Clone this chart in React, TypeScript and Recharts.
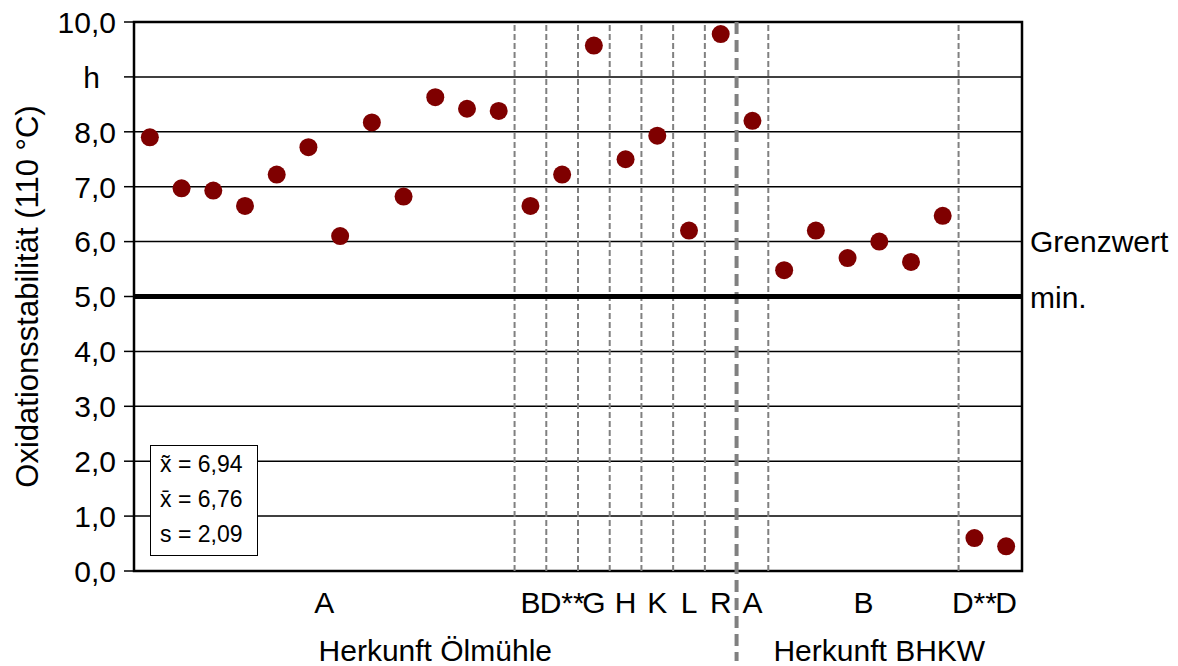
import {
  CartesianGrid,
  ComposedChart,
  Label,
  ReferenceArea,
  ReferenceLine,
  Scatter,
  XAxis,
  YAxis,
} from "recharts";

// oxidation stability per sample, hours at 110 °C
const values = [
  7.9, 6.97, 6.93, 6.65, 7.22, 7.72, 6.1, 8.17, 6.82, 8.63, 8.42, 8.38, 6.65,
  7.22, 9.57, 7.5, 7.93, 6.2, 9.78, 8.2, 5.48, 6.2, 5.7, 6.0, 5.63, 6.47, 0.6,
  0.45,
];

const groupLabels = ["A", "B", "D**", "G", "H", "K", "L", "R", "A", "B", "D**", "D"];
const groupSizes = [12, 1, 1, 1, 1, 1, 1, 1, 1, 6, 1, 1];

const originLabels = ["Herkunft Ölmühle", "Herkunft BHKW"];
const originSizes = [19, 9];

const dividers = [12, 13, 14, 15, 16, 17, 18, 20, 26];

const yTicks = [0, 1, 2, 3, 4, 5, 6, 7, 8, 9, 10];
const limit = 5;

const stats = ["x\u0303 = 6,94", "x\u0304 = 6,76", "s = 2,09"];

const FONT = "'Liberation Sans', Arial, sans-serif";
const FS = 30;
const total = values.length;

const data = values.map((v, i) => ({ pos: i + 0.5, value: v }));

const centers = (sizes: number[]) => {
  let start = 0;
  return sizes.map((s) => {
    const c = start + s / 2;
    start += s;
    return c;
  });
};

const groupTicks = centers(groupSizes);
const originTicks = centers(originSizes);
const originBreak = originSizes[0];

const GroupTick = (props: any) => {
  const { x, y, index } = props;
  return (
    <text x={x} y={y + 42} textAnchor="middle" fontSize={FS} fontFamily={FONT} fill="#000">
      {groupLabels[index]}
    </text>
  );
};

const OriginTick = (props: any) => {
  const { x, y, index } = props;
  return (
    <text x={x} y={y + 35} textAnchor="middle" fontSize={FS} fontFamily={FONT} fill="#000">
      {originLabels[index]}
    </text>
  );
};

const YTick = (props: any) => {
  const { x, y, payload } = props;
  if (payload.value === 9) {
    return (
      <text x={x - 16} y={y} dy="0.36em" textAnchor="end" fontSize={FS} fontFamily={FONT} fill="#000">
        h
      </text>
    );
  }
  return (
    <text x={x} y={y} dy="0.36em" textAnchor="end" fontSize={FS} fontFamily={FONT} fill="#000">
      {payload.value.toFixed(1).replace(".", ",")}
    </text>
  );
};

const YLabel = (props: any) => {
  const vb = props.viewBox;
  const cy = vb.y + vb.height / 2;
  return (
    <text
      x={27}
      y={cy}
      transform={`rotate(-90, 27, ${cy})`}
      textAnchor="middle"
      dy="0.35em"
      fontSize={31}
      fontFamily={FONT}
      fill="#000"
    >
      Oxidationsstabilität (110 °C)
    </text>
  );
};

const LimitLabel = (props: any) => {
  const vb = props.viewBox;
  const x = vb.x + vb.width + 8;
  return (
    <g fontSize={FS} fontFamily={FONT} fill="#000">
      <text x={x} y={vb.y - 55} dy="0.36em">
        Grenzwert
      </text>
      <text x={x} y={vb.y + 1} dy="0.36em">
        min.
      </text>
    </g>
  );
};

const Dot = (props: any) => <circle cx={props.cx} cy={props.cy} r={9} fill="#7f0000" />;

const BreakLine = (props: any) => {
  const top = Math.min(props.y1, props.y2);
  const bottom = Math.max(props.y1, props.y2);
  return (
    <line
      x1={props.x1}
      x2={props.x2}
      y1={top}
      y2={bottom + 90}
      stroke="#808080"
      strokeWidth={4}
      strokeDasharray="12 6"
    />
  );
};

export default function App() {
  return (
    <div style={{ position: "absolute", left: 0, top: 0, width: 1178, height: 666, background: "#fff", overflow: "hidden" }}>
      <ComposedChart
        width={1178}
        height={666}
        data={data}
        margin={{ top: 22, right: 156, left: 0, bottom: 0 }}
      >
        <CartesianGrid horizontal vertical={false} stroke="#000" strokeWidth={1.5} />
        <XAxis
          dataKey="pos"
          type="number"
          domain={[0, total]}
          allowDataOverflow
          ticks={groupTicks}
          interval={0}
          tick={<GroupTick />}
          tickLine={false}
          tickSize={0}
          tickMargin={0}
          axisLine={false}
          height={55}
        />
        <XAxis
          xAxisId="origin"
          dataKey="pos"
          type="number"
          domain={[0, total]}
          allowDataOverflow
          ticks={originTicks}
          interval={0}
          tick={<OriginTick />}
          tickLine={false}
          tickSize={0}
          tickMargin={0}
          axisLine={false}
          height={40}
        />
        <YAxis
          type="number"
          domain={[0, 10]}
          ticks={yTicks}
          interval={0}
          width={134}
          tick={<YTick />}
          tickSize={10}
          tickMargin={8}
          tickLine={{ stroke: "#000", strokeWidth: 1.5 }}
          axisLine={false}
        >
          <Label content={<YLabel />} />
        </YAxis>
        {dividers.map((d) => (
          <ReferenceLine
            key={d}
            x={d}
            stroke="#808080"
            strokeWidth={2}
            strokeDasharray="6 3"
          />
        ))}
        <ReferenceLine x={originBreak} shape={<BreakLine />} />
        <ReferenceLine y={limit} stroke="#000" strokeWidth={5} label={<LimitLabel />} />
        <ReferenceArea
          x1={0}
          x2={total}
          y1={0}
          y2={10}
          fill="none"
          fillOpacity={0}
          stroke="#000"
          strokeWidth={2.5}
        />
        <Scatter dataKey="value" shape={<Dot />} isAnimationActive={false} />
      </ComposedChart>
      <div
        style={{
          position: "absolute",
          left: 150,
          top: 445,
          width: 108,
          height: 111,
          boxSizing: "border-box",
          border: "1.5px solid #000",
          background: "#fff",
          paddingTop: 1,
          paddingLeft: 9,
          fontFamily: FONT,
          fontSize: 23,
          lineHeight: "35px",
          color: "#000",
          whiteSpace: "nowrap",
        }}
      >
        {stats.map((s) => (
          <div key={s}>{s}</div>
        ))}
      </div>
    </div>
  );
}
